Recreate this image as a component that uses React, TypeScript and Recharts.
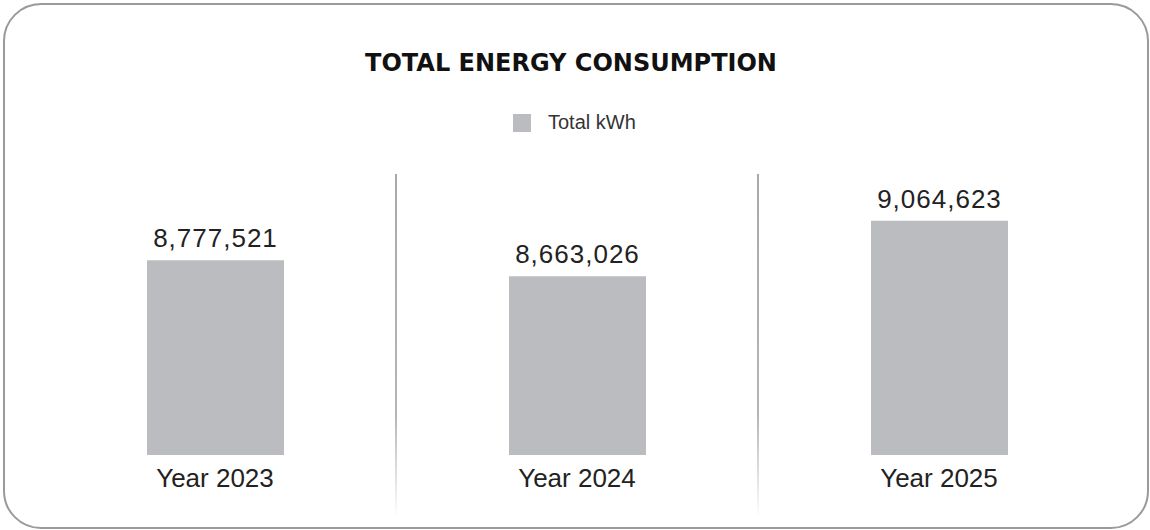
import { BarChart, Bar, XAxis, YAxis, LabelList } from 'recharts';

const years = ['Year 2023', 'Year 2024', 'Year 2025'];
const totalKwh = [8777521, 8663026, 9064623];
const seriesName = 'Total kWh';
const title = 'TOTAL ENERGY CONSUMPTION';

const data = years.map((year, i) => ({ year, total: totalKwh[i] }));

const W = 1150;
const H = 530;
const margin = { top: 170, right: 30, bottom: 15, left: 34 };
const xAxisHeight = 60;
const barColor = '#bbbcc0';
const font = '"Liberation Sans", Arial, sans-serif';

const fmt = (v: any) => Number(v).toLocaleString('en-US');

export default function App() {
  const plotW = W - margin.left - margin.right;
  const band = plotW / years.length;
  const separators = years.slice(1).map((_, i) => margin.left + band * (i + 1));

  return (
    <div style={{ position: 'absolute', left: 0, top: 0, width: W, height: H, background: '#fff', fontFamily: font }}>
      <div
        style={{
          position: 'absolute',
          left: 3,
          top: 3,
          width: 1146,
          height: 526,
          boxSizing: 'border-box',
          border: '2px solid #9a9a9a',
          borderRadius: 38,
        }}
      />
      <div
        style={{
          position: 'absolute',
          left: 0,
          width: W - 8,
          top: 48,
          textAlign: 'center',
          fontFamily: '"DejaVu Sans", sans-serif',
          fontWeight: 700,
          fontSize: 24,
          lineHeight: '30px',
          color: '#111',
        }}
      >
        {title}
      </div>
      <div
        style={{
          position: 'absolute',
          left: 513,
          top: 111,
          display: 'flex',
          alignItems: 'center',
          fontSize: 20,
          color: '#333',
        }}
      >
        <span style={{ display: 'inline-block', width: 18, height: 18, background: barColor, marginRight: 17 }} />
        <span>{seriesName}</span>
      </div>
      {separators.map((x, i) => (
        <div
          key={i}
          style={{
            position: 'absolute',
            left: Math.round(x) - 1,
            top: 174,
            width: 2,
            height: 344,
            background: 'linear-gradient(to bottom, #a9a9a9 0%, #b5b5b5 70%, #ffffff 100%)',
          }}
        />
      ))}
      <div style={{ position: 'absolute', left: 0, top: 0 }}>
        <BarChart width={W} height={H} data={data} margin={margin} barCategoryGap={0}>
          <XAxis
            dataKey="year"
            axisLine={false}
            tickLine={false}
            tickSize={0}
            tickMargin={14}
            height={xAxisHeight}
            interval={0}
            tick={{ fill: '#222', fontSize: 26, fontFamily: font }}
          />
          <YAxis hide domain={[7367000, 9432000]} allowDataOverflow />
          <Bar dataKey="total" name={seriesName} fill={barColor} barSize={137} isAnimationActive={false}>
            <LabelList
              dataKey="total"
              position="top"
              offset={13}
              formatter={fmt}
              style={{ fill: '#222', fontSize: 26, fontFamily: font, letterSpacing: 1 }}
            />
          </Bar>
        </BarChart>
      </div>
    </div>
  );
}
